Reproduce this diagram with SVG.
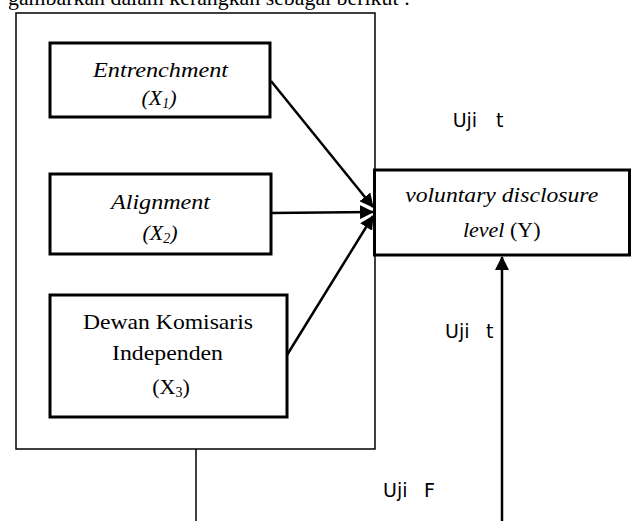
<svg xmlns="http://www.w3.org/2000/svg" width="631" height="521" viewBox="0 0 631 521">
<style>
.serif{font-family:"Liberation Serif","Times New Roman",serif;font-size:22px;fill:#000}
.it{font-style:italic}
.sans{font-family:"DejaVu Sans",Verdana,sans-serif;font-size:19px;fill:#000}
.box{fill:#fff;stroke:#000;stroke-width:3}
.thin{fill:none;stroke:#000;stroke-width:1.5}
.conn{fill:none;stroke:#000;stroke-width:2.5}
.sub{font-size:14px}
</style>
<defs>
<marker id="ah" markerUnits="userSpaceOnUse" markerWidth="14" markerHeight="14" viewBox="0 0 14 14" refX="13" refY="7" orient="auto">
<path d="M0,0 L14,7 L0,14 Z" fill="#000"/>
</marker>
</defs>
<rect width="631" height="521" fill="#fff"/>
<text class="serif" x="8" y="4.5" textLength="402" lengthAdjust="spacingAndGlyphs">gambarkan dalam kerangkan sebagai berikut :</text>
<g id="frame">
<rect class="thin" x="16" y="13" width="359" height="436"/>
</g>
<g id="connectors">
<line class="conn" x1="271" y1="81" x2="373" y2="207" marker-end="url(#ah)"/>
<line class="conn" x1="271" y1="213" x2="373" y2="212" marker-end="url(#ah)"/>
<line class="conn" x1="287" y1="355" x2="373" y2="216" marker-end="url(#ah)"/>
<line class="thin" x1="196" y1="449" x2="196" y2="521"/>
<line class="conn" x1="502" y1="521" x2="502" y2="257" marker-end="url(#ah)"/>
</g>
<g id="x1">
<rect class="box" x="50" y="43" width="220" height="74"/>
<text class="serif it" x="160.5" y="76.5" text-anchor="middle" textLength="135" lengthAdjust="spacingAndGlyphs">Entrenchment</text>
<text class="serif it" x="159" y="105" text-anchor="middle">(X<tspan class="sub" dy="3">1</tspan><tspan dy="-3">)</tspan></text>
</g>
<g id="x2">
<rect class="box" x="50" y="174" width="221" height="80"/>
<text class="serif it" x="160.5" y="208.5" text-anchor="middle" textLength="99" lengthAdjust="spacingAndGlyphs">Alignment</text>
<text class="serif it" x="160" y="240" text-anchor="middle">(X<tspan class="sub" dy="3">2</tspan><tspan dy="-3">)</tspan></text>
</g>
<g id="x3">
<rect class="box" x="50" y="295" width="237" height="122"/>
<text class="serif" x="168" y="328.5" text-anchor="middle" textLength="170" lengthAdjust="spacingAndGlyphs">Dewan Komisaris</text>
<text class="serif" x="167.5" y="360" text-anchor="middle" textLength="111" lengthAdjust="spacingAndGlyphs">Independen</text>
<text class="serif" x="171" y="393.5" text-anchor="middle">(X<tspan class="sub" dy="3">3</tspan><tspan dy="-3">)</tspan></text>
</g>
<g id="y">
<rect class="box" x="374.5" y="170" width="255" height="85"/>
<text class="serif it" x="501.7" y="201.7" text-anchor="middle" textLength="193" lengthAdjust="spacingAndGlyphs">voluntary disclosure</text>
<text class="serif" x="501.7" y="236.7" text-anchor="middle"><tspan class="it">level</tspan> (Y)</text>
</g>
<g id="labels">
<text class="sans" x="452.7" y="127.3">Uji<tspan x="496">t</tspan></text>
<text class="sans" x="445" y="338">Uji<tspan x="486">t</tspan></text>
<text class="sans" x="383" y="497">Uji<tspan x="424">F</tspan></text>
</g>
</svg>
